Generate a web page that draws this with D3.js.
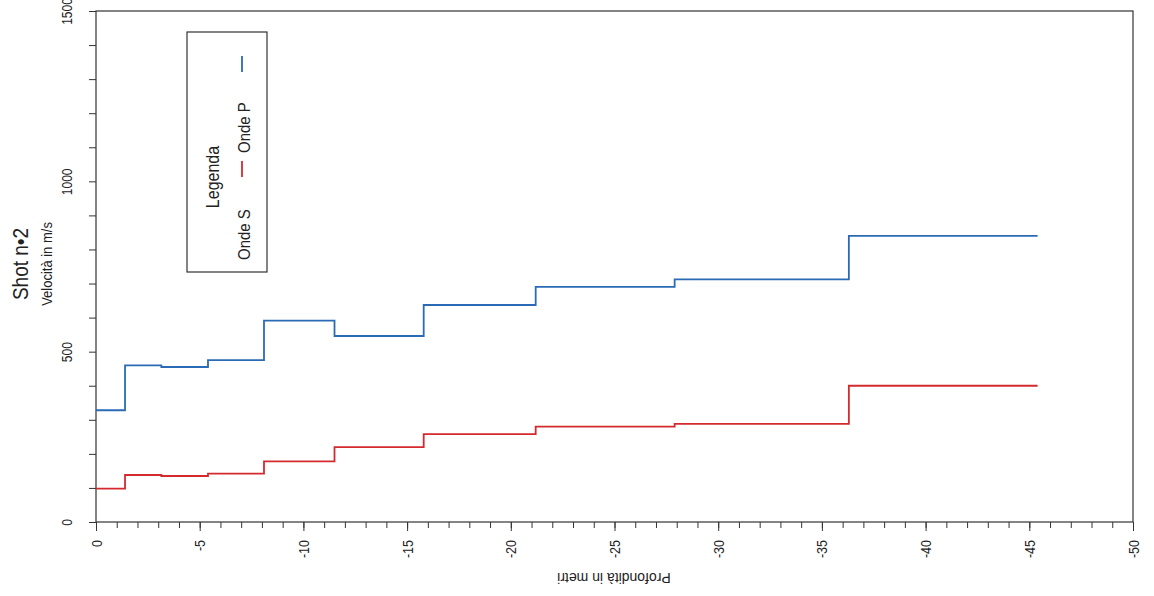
<!DOCTYPE html>
<html>
<head>
<meta charset="utf-8">
<script src="https://cdn.jsdelivr.net/npm/d3@7"></script>
<style>
  body { margin: 0; background: #fff; }
  text { font-family: "Liberation Sans", Arial, sans-serif; fill: #222; }
</style>
</head>
<body>
<svg id="chart"></svg>
<script>
// layer tops (depth in m, negative down) - last one is just the end of the profile
const depths = [0, -1.4, -3.15, -5.4, -8.1, -11.5, -15.8, -21.2, -27.9, -36.3, -45.4];
// velocities per layer, m/s
const vP = [328, 460, 455, 475, 591, 546, 637, 690, 712, 840];
const vS = [98, 138, 135, 142, 178, 220, 258, 280, 288, 400];

const xMajor = [0, -5, -10, -15, -20, -25, -30, -35, -40, -45, -50];
const yMajor = [0, 500, 1000, 1500];

const width = 1154, height = 596;
const plotL = 96, plotR = 1133, plotT = 11, plotB = 522;
const stretch = 1.15; // scanned text looks a bit wider than tall

const svg = d3.select('#chart')
  .attr('width', width)
  .attr('height', height);

const x = d3.scaleLinear().domain([0, -50]).range([plotL, plotR]);
const y = d3.scaleLinear().domain([0, 1500]).range([plotB, plotT]);

// frame
svg.append('rect')
  .attr('x', plotL).attr('y', plotT)
  .attr('width', plotR - plotL).attr('height', plotB - plotT)
  .attr('fill', 'none')
  .attr('stroke', '#333')
  .attr('stroke-width', 1.2);

// x minor ticks (every metre)
svg.append('g')
  .attr('transform', `translate(0,${plotB})`)
  .call(d3.axisBottom(x).tickValues(d3.range(0, -51, -1)).tickSize(6).tickSizeOuter(0).tickFormat(''))
  .call(g => g.select('.domain').remove())
  .call(g => g.selectAll('line').attr('stroke', '#333'));

// x major ticks + rotated labels (plain hyphen like the original)
svg.append('g')
  .attr('transform', `translate(0,${plotB})`)
  .call(d3.axisBottom(x).tickValues(xMajor).tickSize(9).tickSizeOuter(0).tickFormat(d => String(d)))
  .call(g => g.select('.domain').remove())
  .call(g => g.selectAll('line').attr('stroke', '#333'))
  .call(g => g.selectAll('text')
    .attr('x', 0).attr('y', 0).attr('dy', '0.35em')
    .attr('transform', `translate(0,18) rotate(-90) scale(1,${stretch})`)
    .style('text-anchor', 'end')
    .style('font-size', '12.5px')
    .attr('fill', '#222'));

// y ticks every 100, labels every 500
svg.append('g')
  .attr('transform', `translate(${plotL},0)`)
  .call(d3.axisLeft(y).tickValues(d3.range(0, 1501, 100)).tickSize(7).tickSizeOuter(0)
    .tickFormat(d => yMajor.includes(d) ? d : ''))
  .call(g => g.select('.domain').remove())
  .call(g => g.selectAll('line').attr('stroke', '#333'))
  .call(g => g.selectAll('text')
    .attr('x', 0).attr('dy', 0)
    .attr('transform', `translate(-24,0) rotate(-90) scale(1,${stretch})`)
    .style('text-anchor', 'middle')
    .style('font-size', '12px')
    .attr('fill', '#222'));

// step profiles
const line = d3.line()
  .x(d => x(d[0]))
  .y(d => y(d[1]))
  .curve(d3.curveStepAfter);

function profile(v) {
  const pts = v.map((val, i) => [depths[i], val]);
  pts.push([depths[depths.length - 1], v[v.length - 1]]);
  return pts;
}

svg.append('path')
  .attr('d', line(profile(vS)))
  .attr('fill', 'none')
  .attr('stroke', '#d42a2e')
  .attr('stroke-width', 1.8);

svg.append('path')
  .attr('d', line(profile(vP)))
  .attr('fill', 'none')
  .attr('stroke', '#2b6bb5')
  .attr('stroke-width', 1.8);

// titles (rotated like the scanned page)
svg.append('text')
  .attr('transform', `translate(28,264) rotate(-90) scale(1,${stretch})`)
  .style('text-anchor', 'middle')
  .style('font-size', '19px')
  .text('Shot n•2');

svg.append('text')
  .attr('transform', `translate(52,264) rotate(-90) scale(1,${stretch})`)
  .style('text-anchor', 'middle')
  .style('font-size', '13px')
  .text('Velocità in m/s');

svg.append('text')
  .attr('transform', 'translate(614,573) rotate(180)')
  .style('text-anchor', 'middle')
  .style('font-size', '14px')
  .text('Profondità in metri');

// legend, drawn in its own rotated frame
const lg = svg.append('g')
  .attr('transform', 'translate(187,272) rotate(-90)');

lg.append('rect')
  .attr('width', 240).attr('height', 80)
  .attr('fill', '#fff')
  .attr('stroke', '#333')
  .attr('stroke-width', 1.2);

lg.append('text')
  .attr('transform', `translate(95,32) scale(1,${stretch})`)
  .style('text-anchor', 'middle')
  .style('font-size', '16px')
  .text('Legenda');

const legendItems = [
  { name: 'Onde S', color: '#d42a2e', tx: 12, lx: 95 },
  { name: 'Onde P', color: '#2b6bb5', tx: 119, lx: 200 }
];

legendItems.forEach(d => {
  lg.append('text')
    .attr('transform', `translate(${d.tx},63) scale(1,${stretch})`)
    .style('font-size', '15px')
    .text(d.name);
  lg.append('line')
    .attr('x1', d.lx).attr('x2', d.lx + 16)
    .attr('y1', 55).attr('y2', 55)
    .attr('stroke', d.color)
    .attr('stroke-width', 1.8);
});
</script>
</body>
</html>
